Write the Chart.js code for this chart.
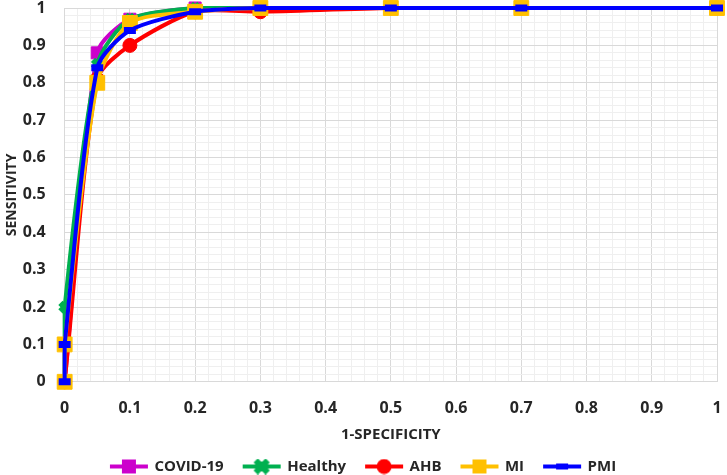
<!DOCTYPE html>
<html>
<head>
<meta charset="utf-8">
<script src="https://cdn.jsdelivr.net/npm/chart.js@4.4.0/dist/chart.umd.min.js"></script>
<style>
  html, body { margin: 0; padding: 0; background: #ffffff; }
  #wrap { width: 727px; height: 475px; }
</style>
</head>
<body>
<div id="wrap"><canvas id="roc" width="727" height="475"></canvas></div>
<script>
// ROC points (x = 1-specificity, y = sensitivity)
const covidX   = [0, 0.05, 0.1, 0.2, 0.3, 0.5, 0.7, 1];
const covidY   = [0, 0.88, 0.97, 1, 1, 1, 1, 1];
const healthyX = [0, 0, 0.05, 0.1, 0.2, 0.3, 0.5, 0.7, 1];
const healthyY = [0, 0.2, 0.85, 0.97, 1, 1, 1, 1, 1];
const ahbX     = [0, 0.05, 0.1, 0.2, 0.3, 0.5, 0.7, 1];
const ahbY     = [0, 0.81, 0.9, 0.99, 0.99, 1, 1, 1];
const miX      = [0, 0, 0.05, 0.1, 0.2, 0.3, 0.5, 0.7, 1];
const miY      = [0, 0.1, 0.8, 0.96, 0.99, 1, 1, 1, 1];
const pmiX     = [0, 0, 0.05, 0.1, 0.2, 0.3, 0.5, 0.7, 1];
const pmiY     = [0, 0.1, 0.84, 0.94, 0.99, 1, 1, 1, 1];

const seriesNames = ['COVID-19', 'Healthy', 'AHB', 'MI', 'PMI'];

const toPoints = (xs, ys) => xs.map((x, i) => ({ x: x, y: ys[i] }));

// small canvas used as legend symbol: line with the marker in the middle
function legendSymbol(color, shape) {
    const c = document.createElement('canvas');
    c.width = 40;
    c.height = 16;
    const g = c.getContext('2d');
    g.strokeStyle = color;
    g.fillStyle = color;
    g.lineWidth = 4;
    g.beginPath();
    g.moveTo(1, 8);
    g.lineTo(39, 8);
    g.stroke();
    if (shape === 'square') {
        g.fillRect(13, 1, 14, 14);
    } else if (shape === 'x') {
        g.lineWidth = 6;
        g.beginPath();
        g.moveTo(14, 2); g.lineTo(26, 14);
        g.moveTo(26, 2); g.lineTo(14, 14);
        g.stroke();
        g.fillRect(15, 3, 10, 10);
    } else if (shape === 'circle') {
        g.beginPath();
        g.arc(20, 8, 7.5, 0, Math.PI * 2);
        g.fill();
    } else if (shape === 'dash') {
        g.fillRect(14, 5, 12, 6);
    }
    return c;
}

const isMajor = (v) => Math.round(v * 100) % 10 === 0;
const textColor = '#262626';

const ctx = document.getElementById('roc').getContext('2d');

new Chart(ctx, {
    type: 'scatter',
    data: {
        datasets: [
            {
                label: seriesNames[0],
                data: toPoints(covidX, covidY),
                borderColor: '#cc00cc',
                backgroundColor: '#cc00cc',
                pointStyle: 'rect',
                pointRadius: 8.5,
                legendIcon: legendSymbol('#cc00cc', 'square'),
                order: 5
            },
            {
                label: seriesNames[1],
                data: toPoints(healthyX, healthyY),
                borderColor: '#00b050',
                backgroundColor: '#00b050',
                pointStyle: 'crossRot',
                pointRadius: 6,
                pointBorderWidth: 6,
                legendIcon: legendSymbol('#00b050', 'x'),
                order: 4
            },
            {
                label: seriesNames[2],
                data: toPoints(ahbX, ahbY),
                borderColor: '#ff0000',
                backgroundColor: '#ff0000',
                pointStyle: 'circle',
                pointRadius: 7,
                legendIcon: legendSymbol('#ff0000', 'circle'),
                order: 3
            },
            {
                label: seriesNames[3],
                data: toPoints(miX, miY),
                borderColor: '#ffc000',
                backgroundColor: '#ffc000',
                pointStyle: 'rect',
                pointRadius: 10.5,
                legendIcon: legendSymbol('#ffc000', 'square'),
                order: 2
            },
            {
                label: seriesNames[4],
                data: toPoints(pmiX, pmiY),
                borderColor: '#0000ff',
                backgroundColor: '#0000ff',
                pointStyle: 'line',
                pointRadius: 6,
                pointBorderWidth: 7,
                legendIcon: legendSymbol('#0000ff', 'dash'),
                order: 1
            }
        ]
    },
    options: {
        responsive: false,
        animation: false,
        showLine: true,
        clip: 12,
        layout: { autoPadding: false, padding: { left: 0, right: 0, top: 0, bottom: -9 } },
        elements: {
            line: { borderWidth: 4, tension: 0.25 },
            point: { borderWidth: 1, hoverRadius: 8 }
        },
        scales: {
            x: {
                type: 'linear',
                min: 0,
                max: 1,
                border: { color: '#d9d9d9' },
                afterFit: (scale) => {
                    scale.paddingLeft = 0;
                    scale.paddingRight = 10;
                },
                grid: {
                    drawTicks: true,
                    tickLength: 15,
                    tickColor: 'rgba(0,0,0,0)',
                    color: (c) => (c.tick && isMajor(c.tick.value)) ? '#d9d9d9' : '#efefef'
                },
                ticks: {
                    stepSize: 0.02,
                    maxTicksLimit: 100,
                    autoSkip: false,
                    maxRotation: 0,
                    padding: 2,
                    color: textColor,
                    font: { family: 'Open Sans', size: 16, weight: 'bold' },
                    callback: (v) => isMajor(v) ? String(Math.round(v * 10) / 10) : ''
                },
                title: {
                    display: true,
                    text: '1-SPECIFICITY',
                    color: textColor,
                    padding: { top: 6, bottom: -5 },
                    font: { family: 'Open Sans', size: 15, weight: 'bold' }
                }
            },
            y: {
                type: 'linear',
                min: 0,
                max: 1,
                border: { color: '#d9d9d9' },
                afterFit: (scale) => {
                    scale.paddingTop = 8;
                    scale.paddingBottom = 8;
                },
                grid: {
                    drawTicks: true,
                    tickLength: 17,
                    tickColor: 'rgba(0,0,0,0)',
                    color: (c) => (c.tick && isMajor(c.tick.value)) ? '#d9d9d9' : '#efefef'
                },
                ticks: {
                    stepSize: 0.02,
                    maxTicksLimit: 100,
                    autoSkip: false,
                    padding: 2,
                    color: textColor,
                    font: { family: 'Open Sans', size: 16, weight: 'bold' },
                    callback: (v) => isMajor(v) ? String(Math.round(v * 10) / 10) : ''
                },
                title: {
                    display: true,
                    text: 'SENSITIVITY',
                    color: textColor,
                    padding: { top: 4, bottom: 0 },
                    font: { family: 'Open Sans', size: 14, weight: 'bold' }
                }
            }
        },
        plugins: {
            tooltip: { enabled: false },
            legend: {
                position: 'bottom',
                labels: {
                    usePointStyle: true,
                    pointStyleWidth: 36,
                    padding: 20,
                    color: textColor,
                    font: { family: 'Open Sans', size: 15, weight: 'bold' },
                    sort: (a, b) => a.datasetIndex - b.datasetIndex,
                    generateLabels: (chart) => chart.data.datasets.map((ds, i) => ({
                        text: ds.label,
                        fillStyle: ds.backgroundColor,
                        strokeStyle: ds.borderColor,
                        fontColor: textColor,
                        pointStyle: ds.legendIcon,
                        lineWidth: 0,
                        hidden: !chart.isDatasetVisible(i),
                        datasetIndex: i
                    }))
                }
            }
        }
    }
});
</script>
</body>
</html>
